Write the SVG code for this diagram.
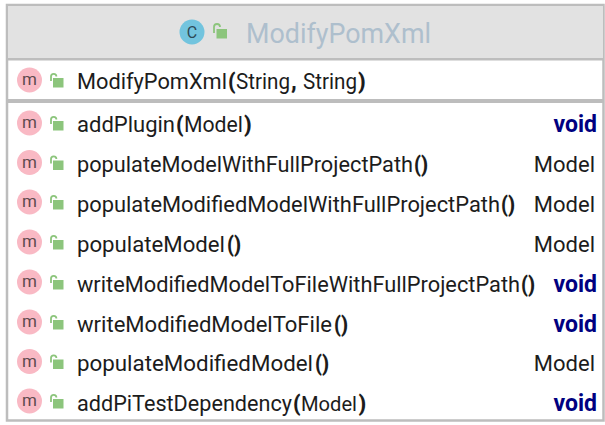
<svg xmlns="http://www.w3.org/2000/svg" width="605" height="425" viewBox="0 0 605 425">
<style>
text{font-family:Roboto,"Open Sans","Liberation Sans",sans-serif;font-size:21.5px;fill:#1c1c1c}
.b{font-weight:900}
.t{text-anchor:end;font-size:22px}
.v{font-weight:700;fill:#000080;text-anchor:end;font-size:23px}
.mc{fill:#f9b9c4}
.ml{font-size:17px;fill:#5e4a4e;text-anchor:middle}
.lk{fill:#8cc57c}
.sh{fill:none;stroke:#8cc57c;stroke-width:1.8}
</style>
<defs>
<g id="m"><circle class="mc" cx="29.5" cy="0" r="12.5"/><text class="ml" x="29.5" y="5">m</text></g>
<g id="lock"><path class="sh" d="M51 1V-3.5a2.7 2.7 0 0 1 5.4 0"/><rect class="lk" x="53" y="-2" width="10.5" height="9.5"/></g>
</defs>
<rect width="605" height="425" fill="#fff"/>
<rect x="7" y="5" width="596.5" height="415.5" fill="#fff" stroke="#bdbdbd" stroke-width="2.5"/>
<g id="header">
<rect x="8" y="6" width="595" height="52" fill="#e2e2e2"/>
<rect x="7" y="58" width="597" height="2.5" fill="#bdbdbd"/>
<circle cx="192" cy="32" r="12.5" fill="#72c4de"/>
<text x="192" y="37.5" text-anchor="middle" style="font-size:16px;fill:#2d4a55">C</text>
<path class="sh" d="M214 33V27a3 3 0 0 1 6 0"/>
<rect class="lk" x="216.5" y="29" width="10.5" height="9.5"/>
<text x="246" y="43" textLength="185" lengthAdjust="spacingAndGlyphs" style="font-size:27px;fill:#aebfcd">ModifyPomXml</text>
</g>
<rect x="7" y="99" width="597" height="4" fill="#bdbdbd"/>
<g id="ctor"><use href="#m" y="80"/><use href="#lock" y="80"/>
<text x="77" y="89" textLength="150" lengthAdjust="spacingAndGlyphs">ModifyPomXml</text><text class="b" x="228" y="89">(</text><text x="236" y="89" textLength="54" lengthAdjust="spacingAndGlyphs">String</text><text class="b" x="291" y="89">,</text><text x="303" y="89" textLength="54" lengthAdjust="spacingAndGlyphs">String</text><text class="b" x="358" y="89">)</text></g>
<g id="addPlugin"><use href="#m" y="123"/><use href="#lock" y="123"/>
<text x="77" y="132" textLength="98" lengthAdjust="spacingAndGlyphs">addPlugin</text><text class="b" x="176" y="132">(</text><text x="184" y="132" textLength="59" lengthAdjust="spacingAndGlyphs">Model</text><text class="b" x="244" y="132">)</text><text class="v" x="597" y="132">void</text></g>
<g id="populateModelWithFullProjectPath"><use href="#m" y="162.5"/><use href="#lock" y="162.5"/>
<text x="77" y="172" textLength="336" lengthAdjust="spacingAndGlyphs">populateModelWithFullProjectPath</text><text class="b" x="414" y="172" textLength="14" lengthAdjust="spacingAndGlyphs">()</text><text class="t" x="595" y="172">Model</text></g>
<g id="populateModifiedModelWithFullProjectPath"><use href="#m" y="202"/><use href="#lock" y="202"/>
<text x="77" y="211.5" textLength="423" lengthAdjust="spacingAndGlyphs">populateModifiedModelWithFullProjectPath</text><text class="b" x="501" y="211.5" textLength="14" lengthAdjust="spacingAndGlyphs">()</text><text class="t" x="595" y="211.5">Model</text></g>
<g id="populateModel"><use href="#m" y="242"/><use href="#lock" y="242"/>
<text x="77" y="251.5" textLength="148" lengthAdjust="spacingAndGlyphs">populateModel</text><text class="b" x="227" y="251.5" textLength="14" lengthAdjust="spacingAndGlyphs">()</text><text class="t" x="595" y="251.5">Model</text></g>
<g id="writeModifiedModelToFileWithFullProjectPath"><use href="#m" y="282"/><use href="#lock" y="282"/>
<text x="77" y="291.5" textLength="443" lengthAdjust="spacingAndGlyphs">writeModifiedModelToFileWithFullProjectPath</text><text class="b" x="521" y="291.5" textLength="14" lengthAdjust="spacingAndGlyphs">()</text><text class="v" x="597" y="291.5">void</text></g>
<g id="writeModifiedModelToFile"><use href="#m" y="322"/><use href="#lock" y="322"/>
<text x="77" y="331.5" textLength="255" lengthAdjust="spacingAndGlyphs">writeModifiedModelToFile</text><text class="b" x="334" y="331.5" textLength="14" lengthAdjust="spacingAndGlyphs">()</text><text class="v" x="597" y="331.5">void</text></g>
<g id="populateModifiedModel"><use href="#m" y="361.5"/><use href="#lock" y="361.5"/>
<text x="77" y="371" textLength="236" lengthAdjust="spacingAndGlyphs">populateModifiedModel</text><text class="b" x="315" y="371" textLength="14" lengthAdjust="spacingAndGlyphs">()</text><text class="t" x="595" y="371">Model</text></g>
<g id="addPiTestDependency"><use href="#m" y="401"/><use href="#lock" y="401"/>
<text x="77" y="410.5" textLength="215" lengthAdjust="spacingAndGlyphs">addPiTestDependency</text><text class="b" x="293" y="410.5">(</text><text x="301" y="410.5" textLength="56" lengthAdjust="spacingAndGlyphs" style="font-size:20.5px">Model</text><text class="b" x="358.5" y="410.5">)</text><text class="v" x="597" y="410.5">void</text></g>
</svg>
